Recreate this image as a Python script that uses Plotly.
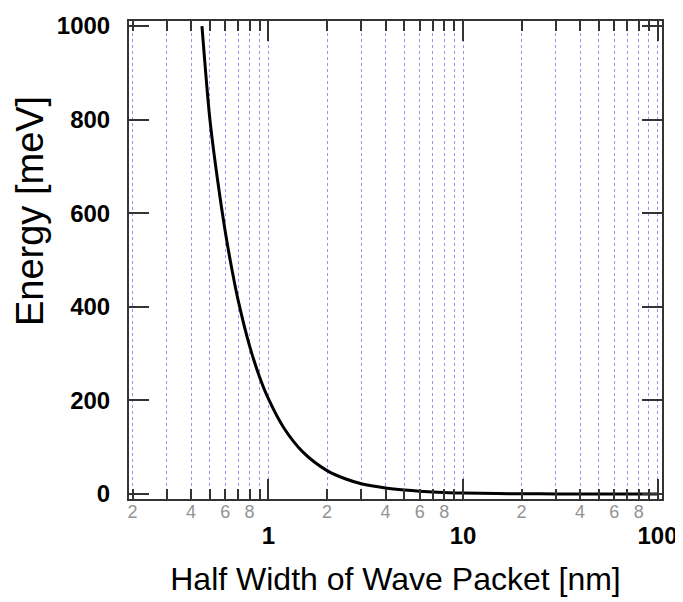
import plotly.graph_objects as go

# Data
half_width_nm = [0.455, 0.5, 0.55, 0.6, 0.65, 0.7, 0.8, 0.9, 1.0, 1.2, 1.5, 2, 2.5, 3, 4, 5, 6, 8,
                 10, 15, 20, 30, 50, 70, 100]
energy_meV = [1000, 800, 665, 560, 478, 412, 316, 250, 203, 141, 90, 50, 32, 22, 13, 8.5, 6, 3.3,
              2.1, 1.0, 0.5, 0.25, 0.1, 0.05, 0.02]

major_x_ticks = [1, 10, 100]
major_x_labels = ["1", "10", "100"]
minor_x_ticks = [0.2, 0.3, 0.4, 0.5, 0.6, 0.7, 0.8, 0.9,
                 2, 3, 4, 5, 6, 7, 8, 9,
                 20, 30, 40, 50, 60, 70, 80, 90]
minor_label_ticks = [0.2, 0.4, 0.6, 0.8, 2, 4, 6, 8, 20, 40, 60, 80]
minor_label_text = ["2", "4", "6", "8", "2", "4", "6", "8", "2", "4", "6", "8"]
y_ticks = [0, 200, 400, 600, 800, 1000]
y_title = "Energy [meV]"
x_title = "Half Width of Wave Packet [nm]"

FONT = "Liberation Sans, Arial, sans-serif"
GRID = "#9494e8"
AXIS = "#333333"
x_range = [-0.717, 2.023]

fig = go.Figure()
fig.add_trace(go.Scatter(
    x=half_width_nm, y=energy_meV, mode="lines",
    line=dict(color="black", width=3, shape="spline", smoothing=0.8),
    showlegend=False, hoverinfo="skip",
))
# invisible trace on the secondary axis for the minor tick labels
fig.add_trace(go.Scatter(x=[1], y=[0], xaxis="x2", mode="markers",
                         marker=dict(opacity=0), showlegend=False, hoverinfo="skip"))

fig.update_layout(
    width=683, height=602,
    margin=dict(l=121, r=29, t=13, b=111, autoexpand=False),
    paper_bgcolor="white", plot_bgcolor="white",
    font=dict(family=FONT, color="black"),
    xaxis=dict(
        type="log", range=x_range, automargin=False,
        tickmode="array", tickvals=major_x_ticks,
        ticktext=["<b>%s</b>" % t for t in major_x_labels],
        tickfont=dict(size=24, color="black", family=FONT),
        ticks="inside", ticklen=20, tickwidth=2, tickcolor=AXIS,
        ticklabelstandoff=14,
        showline=True, linecolor=AXIS, linewidth=2, mirror="ticks",
        showgrid=True, gridcolor=GRID, griddash="dot", gridwidth=1,
        zeroline=False,
        minor=dict(tickmode="array", tickvals=minor_x_ticks, ticks="inside",
                   ticklen=10, tickwidth=2, tickcolor=AXIS,
                   showgrid=True, gridcolor=GRID, griddash="dot", gridwidth=1),
        title=dict(text=x_title,
                   font=dict(size=32, color="black", family=FONT), standoff=20),
    ),
    xaxis2=dict(
        type="log", range=x_range, overlaying="x", anchor="y", side="bottom",
        automargin=False,
        tickmode="array", tickvals=minor_label_ticks, ticktext=minor_label_text,
        tickfont=dict(size=18, color="#939393", family=FONT),
        ticks="", showline=False, showgrid=False, zeroline=False,
        ticklabelstandoff=0,
    ),
    yaxis=dict(
        range=[-10.7, 1010.7], automargin=False,
        tickmode="array", tickvals=y_ticks,
        ticktext=["<b>%d</b>" % v for v in y_ticks],
        tickfont=dict(size=24, color="black", family=FONT),
        ticks="inside", ticklen=20, tickwidth=2, tickcolor=AXIS,
        ticklabelstandoff=12,
        showline=True, linecolor=AXIS, linewidth=2, mirror="ticks",
        showgrid=False, zeroline=False,
    ),
    annotations=[dict(
        text=y_title, textangle=-90, showarrow=False,
        xref="paper", yref="paper", x=-0.1857, y=0.6025,
        xanchor="center", yanchor="middle",
        font=dict(size=38, color="black", family=FONT),
    )],
)

fig.write_html("out.html")
